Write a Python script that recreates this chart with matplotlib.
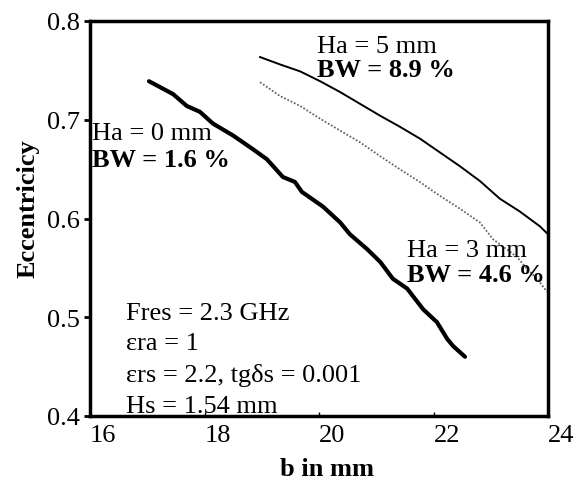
import matplotlib
matplotlib.use("Agg")
import matplotlib.pyplot as plt

plt.rcParams['font.family'] = ['Liberation Serif', 'DejaVu Serif']

# Ha = 0 mm (thick line)
b_ha0 = [17.03, 17.45, 17.69, 17.92, 18.15, 18.50, 18.85, 19.09, 19.37, 19.58,
         19.70, 20.07, 20.37, 20.54, 20.84, 21.07, 21.29, 21.54, 21.82, 22.06,
         22.24, 22.34, 22.55]
e_ha0 = [0.739, 0.726, 0.714, 0.708, 0.696, 0.684, 0.670, 0.660, 0.642, 0.637,
         0.627, 0.612, 0.596, 0.584, 0.569, 0.556, 0.539, 0.529, 0.508, 0.495,
         0.478, 0.471, 0.460]

# Ha = 5 mm (thin line)
b_ha5 = [18.97, 19.32, 19.67, 20.02, 20.37, 20.72, 21.07, 21.41, 21.76, 22.11,
         22.46, 22.81, 23.16, 23.51, 23.86, 24.0]
e_ha5 = [0.7635, 0.756, 0.749, 0.739, 0.728, 0.716, 0.704, 0.693, 0.681, 0.667,
         0.653, 0.638, 0.620, 0.607, 0.592, 0.584]

# Ha = 3 mm (dotted line)
b_ha3 = [18.97, 19.32, 19.67, 20.02, 20.37, 20.72, 21.07, 21.41, 21.76, 22.11,
         22.46, 22.81, 23.04, 23.46, 23.63, 23.81, 23.98]
e_ha3 = [0.738, 0.724, 0.714, 0.701, 0.689, 0.677, 0.663, 0.650, 0.637, 0.623,
         0.610, 0.596, 0.579, 0.561, 0.549, 0.539, 0.526]

xticks = [16, 18, 20, 22, 24]
yticks = [0.4, 0.5, 0.6, 0.7, 0.8]

fig = plt.figure(figsize=(5.77, 4.85), dpi=100)
ax = fig.add_axes([90/577, 1-417/485, (548-90)/577, (417-22)/485])

ax.plot(b_ha0, e_ha0, color='black', lw=3.0, solid_capstyle='round')
ax.plot(b_ha5, e_ha5, color='black', lw=1.4)
ax.plot(b_ha3, e_ha3, color='#666666', lw=1.3, linestyle=(0, (1, 1)))

ax.set_xlim(16, 24)
ax.set_ylim(0.4, 0.8)
ax.set_xticks(xticks)
ax.set_yticks(yticks)
ax.set_xticklabels([str(t) for t in xticks], ha='left')
ax.set_yticklabels(['%.1f' % t for t in yticks])
ax.tick_params(axis='y', direction='out', length=4, width=2, pad=3, labelsize=19)
ax.tick_params(axis='x', direction='in', length=3, width=1, pad=6, labelsize=19)
for lab in ax.get_xticklabels():
    lab.set_x(lab.get_position()[0])
for s in ax.spines.values():
    s.set_linewidth(2.5)

fs = 19
ax.text(16.03, 0.6805, 'Ha = 0 mm', fontsize=fs, va='baseline')
ax.text(16.03, 0.653, 'BW = 1.6 %', fontsize=fs, fontweight='bold', va='baseline')
ax.text(19.97, 0.7686, 'Ha = 5 mm', fontsize=fs, va='baseline')
ax.text(19.97, 0.744, 'BW = 8.9 %', fontsize=fs, fontweight='bold', va='baseline')
ax.text(21.54, 0.562, 'Ha = 3 mm', fontsize=fs, va='baseline')
ax.text(21.54, 0.537, 'BW = 4.6 %', fontsize=fs, fontweight='bold', va='baseline')

ax.text(16.63, 0.498, 'Fres = 2.3 GHz', fontsize=fs, va='baseline')
ax.text(16.63, 0.468, '\u03b5ra = 1', fontsize=fs, va='baseline')
ax.text(16.63, 0.4355, '\u03b5rs = 2.2, tg\u03b4s = 0.001', fontsize=fs, va='baseline')
ax.text(16.63, 0.404, 'Hs = 1.54 mm', fontsize=fs, va='baseline')

fig.text(28/577, 1-209/485, 'Eccentricicy', rotation=90, fontsize=fs,
         fontweight='bold', ha='center', va='center')
fig.text(327/577, 1-470/485, 'b in mm', fontsize=fs, fontweight='bold',
         ha='center', va='center')

fig.savefig('out.png', dpi=100)
